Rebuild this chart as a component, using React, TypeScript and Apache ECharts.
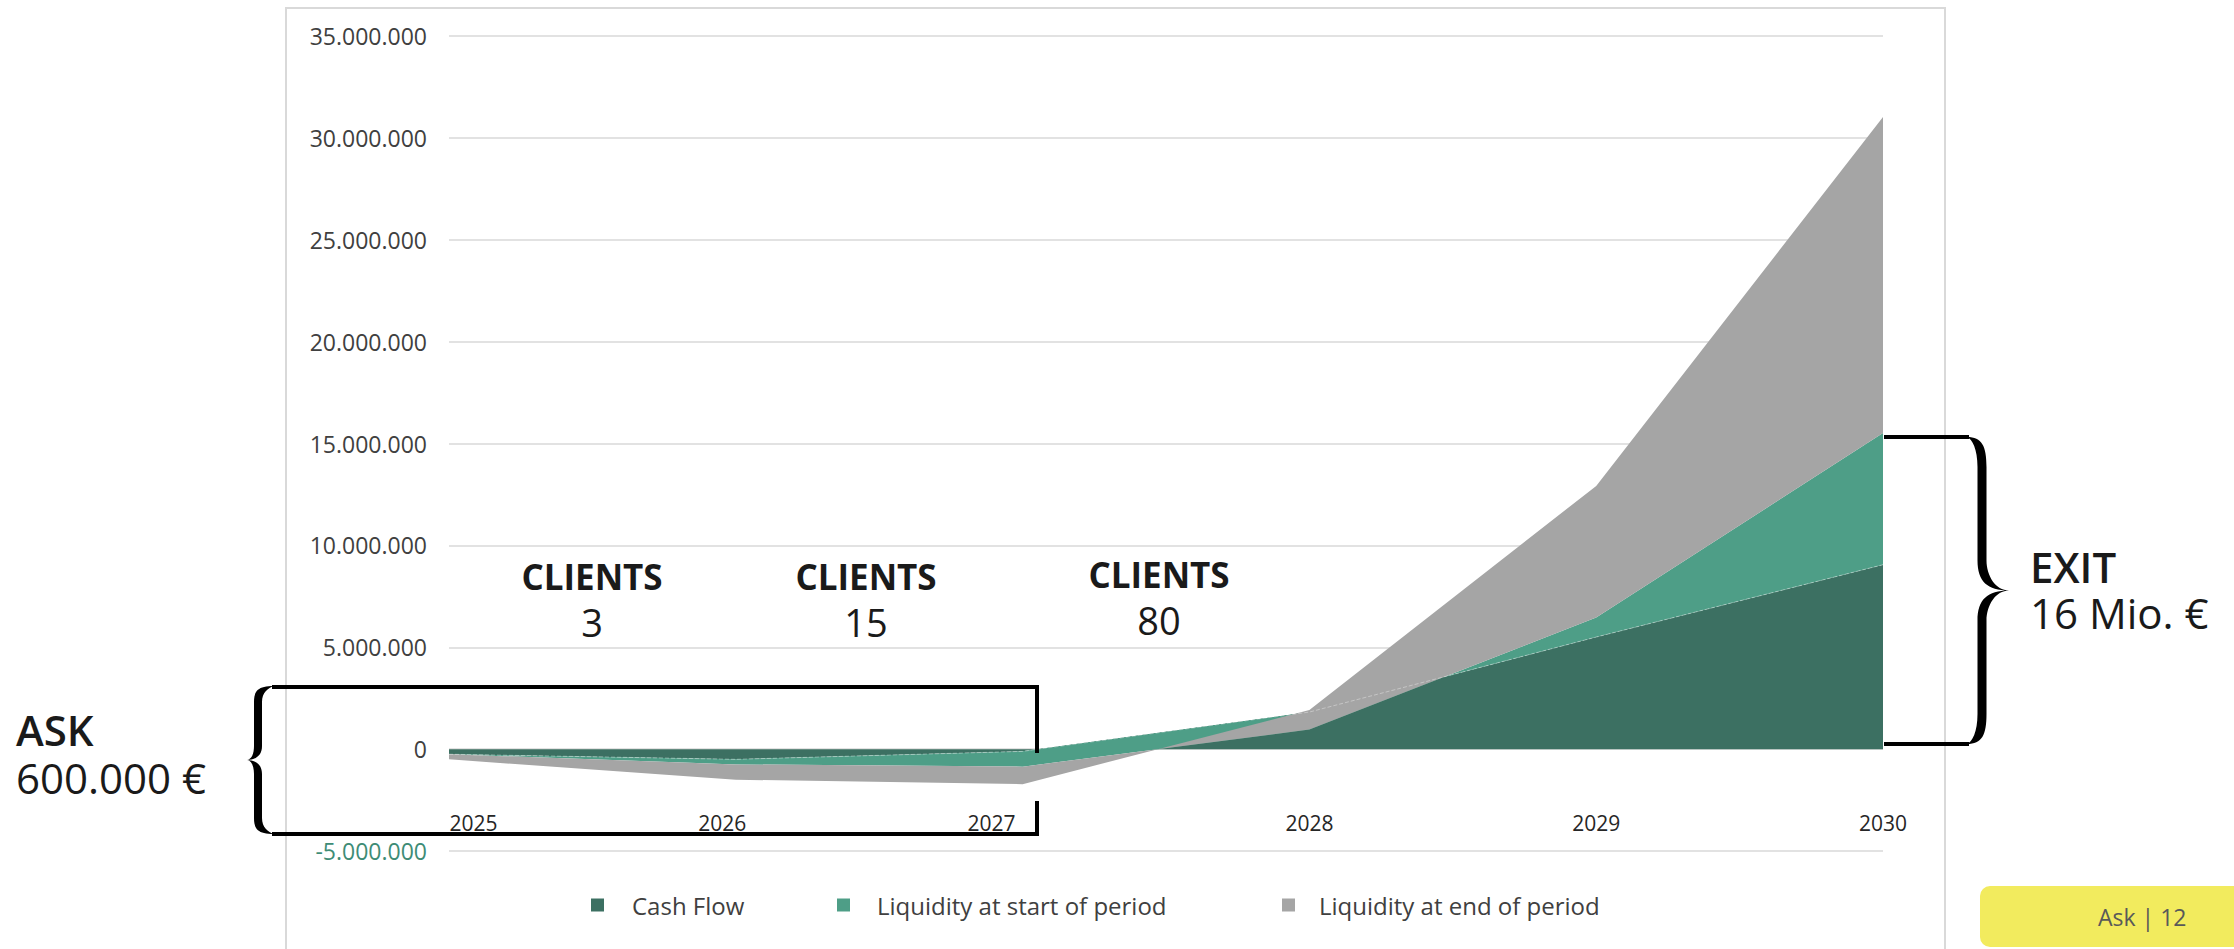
import React, { useEffect, useRef } from "react";
import * as echarts from "echarts";

// ---- data ----
const years = ["2025", "2026", "2027", "2028", "2029", "2030"];
const cashFlow = [-250000, -500000, -110000, 1820000, 5500000, 9050000];
const liquidityStart = [0, -250000, -750000, -860000, 960000, 6460000];
const liquidityEnd = [-250000, -750000, -860000, 960000, 6460000, 15510000];
const yMin = -5000000;
const yMax = 35000000;
const yInterval = 5000000;
const seriesNames = ["Cash Flow", "Liquidity at start of period", "Liquidity at end of period"];
const clientCounts = ["3", "15", "80"];

const DARK = "#3c7062";
const MID = "#4e9e87";
const GRAY = "#a5a5a5";
const FONT = "Open Sans";

function fmtNum(v: number): string {
  const n = Math.round(Math.abs(v)).toString().replace(/\B(?=(\d{3})+(?!\d))/g, ".");
  return (v < 0 ? "-" : "") + n;
}

function braceD(xe: number, xb: number, xt: number, yt: number, yb: number, h: number, r: number, q: number): string {
  const s = xt > xb ? 1 : -1;
  const xo = xb + s * h;
  const xi = xb - s * h;
  const ym = (yt + yb) / 2;
  const xm = (xe + xi) / 2;
  const d = Math.abs(xt - xb);
  const tc1 = xt - s * 0.5 * d;
  const tc2 = xt - s * 0.8 * d;
  return [
    `M${xe},${yt}`,
    `C${xb},${yt} ${xo},${yt + 0.3 * r} ${xo},${yt + r}`,
    `L${xo},${ym - q}`,
    `C${xo},${ym - 0.5 * q} ${tc1},${ym} ${xt},${ym}`,
    `C${tc1},${ym} ${xo},${ym + 0.5 * q} ${xo},${ym + q}`,
    `L${xo},${yb - r}`,
    `C${xo},${yb - 0.3 * r} ${xb},${yb} ${xe},${yb}`,
    `C${xm},${yb - 0.5 * h} ${xi},${yb - 0.4 * r} ${xi},${yb - r}`,
    `L${xi},${ym + q}`,
    `C${xi},${ym + 0.3 * q} ${tc2},${ym} ${xt},${ym}`,
    `C${tc2},${ym} ${xi},${ym - 0.3 * q} ${xi},${ym - q}`,
    `L${xi},${yt + r}`,
    `C${xi},${yt + 0.4 * r} ${xm},${yt + 0.5 * h} ${xe},${yt}`,
    "Z",
  ].join(" ");
}

echarts.graphic.registerShape(
  "braceAsk",
  echarts.graphic.extendPath(braceD(274, 258, 246, 686, 834, 4, 16, 14), {})
);
echarts.graphic.registerShape(
  "braceExit",
  echarts.graphic.extendPath(braceD(1967, 1982, 2009, 437, 744, 4.5, 30, 30), {})
);

function txt(x: number, y: number, text: string, size: number, weight: any, align: string, color = "#1a1a1a") {
  return {
    type: "text",
    x,
    y,
    silent: true,
    z: 10,
    style: {
      text,
      fill: color,
      fontFamily: FONT,
      fontSize: size,
      fontWeight: weight,
      lineHeight: size,
      textAlign: align,
      textVerticalAlign: "middle",
      verticalAlign: "middle",
    },
  };
}

// two-line label (title + value) as one rich text block
function twoLine(x: number, yMid: number, title: string, value: string, sizeT: number, sizeV: number, gap: number, tWeight: any, vWeight: any, align = "left") {
  return {
    type: "text",
    x,
    y: yMid,
    silent: true,
    z: 10,
    style: {
      text: `{t|${title}}\n{v|${value}}`,
      fill: "#1a1a1a",
      fontFamily: FONT,
      textAlign: align,
      textVerticalAlign: "middle",
      verticalAlign: "middle",
      rich: {
        t: { fontFamily: FONT, fontSize: sizeT, fontWeight: tWeight, lineHeight: gap, fill: "#1a1a1a", align },
        v: { fontFamily: FONT, fontSize: sizeV, fontWeight: vWeight, lineHeight: gap, fill: "#1a1a1a", align },
      },
    },
  };
}

function ln(x1: number, y1: number, x2: number, y2: number, w = 4) {
  return {
    type: "line",
    silent: true,
    z: 10,
    shape: { x1, y1, x2, y2 },
    style: { stroke: "#000", lineWidth: w, lineCap: "square" },
  };
}

export default function App() {
  const ref = useRef<HTMLDivElement>(null);

  useEffect(() => {
    if (!ref.current) return;
    const chart = echarts.init(ref.current, undefined, { renderer: "svg" });

    const base = { fontFamily: FONT, fontSize: 21, color: "#262626", lineHeight: 22 };
    const labelKeys = ["l", "m", "n", "c", "c", "c"];

    const legendLefts = [586, 832, 1277];
    const legendPads = [23, 22, 19];
    const colors = [DARK, MID, GRAY];

    // grid: 36 top, 98 bottom -> plot height 815; the x labels hang off the zero line
    const plotH = 949 - 36 - 98;
    const zeroFromBottom = (plotH * (0 - yMin)) / (yMax - yMin);

    const option: any = {
      animation: false,
      backgroundColor: "#ffffff",
      grid: { left: 449, right: 351, top: 36, bottom: 98 },
      legend: seriesNames.map((name, i) => ({
        data: [{ name, itemStyle: { color: colors[i] } }],
        left: legendLefts[i],
        top: 887,
        icon: "rect",
        itemWidth: 13,
        itemHeight: 13,
        selectedMode: false,
        textStyle: {
          fontFamily: FONT,
          fontSize: 24,
          lineHeight: 26,
          color: "#404040",
          padding: [0, 0, 0, legendPads[i]],
        },
      })),
      xAxis: {
        type: "category",
        data: years,
        boundaryGap: false,
        position: "bottom",
        offset: -zeroFromBottom,
        axisLine: { show: false, onZero: false },
        axisTick: { show: false },
        splitLine: { show: false },
        axisLabel: {
          interval: 0,
          margin: 63,
          formatter: (v: string, i: number) => `{${labelKeys[i]}|${v}}`,
          rich: {
            l: { ...base, padding: [0, 0, 0, 49] },
            m: { ...base, padding: [0, 27, 0, 0] },
            n: { ...base, padding: [0, 62, 0, 0] },
            c: { ...base },
          },
        },
      },
      yAxis: {
        type: "value",
        min: yMin,
        max: yMax,
        interval: yInterval,
        axisLine: { show: false },
        axisTick: { show: false },
        splitLine: { show: true, lineStyle: { color: "#d9d9d9", width: 1.5 } },
        axisLabel: {
          margin: 22,
          fontFamily: FONT,
          fontSize: 23,
          color: (val: any) => (Number(val) < 0 ? "#3e8c76" : "#404040"),
          formatter: (v: number) => fmtNum(v),
        },
      },
      series: [
        {
          name: seriesNames[0],
          type: "line",
          stack: "total",
          stackStrategy: "all",
          data: cashFlow,
          symbol: "none",
          silent: true,
          itemStyle: { color: DARK },
          lineStyle: { width: 1, color: "rgba(255,255,255,0.35)", type: "dashed" },
          areaStyle: { color: DARK, opacity: 1 },
        },
        {
          name: seriesNames[1],
          type: "line",
          stack: "total",
          stackStrategy: "all",
          data: liquidityStart,
          symbol: "none",
          silent: true,
          itemStyle: { color: MID },
          lineStyle: { width: 0, opacity: 0 },
          areaStyle: { color: MID, opacity: 1 },
        },
        {
          name: seriesNames[2],
          type: "line",
          stack: "total",
          stackStrategy: "all",
          data: liquidityEnd,
          symbol: "none",
          silent: true,
          itemStyle: { color: GRAY },
          lineStyle: { width: 0, opacity: 0 },
          areaStyle: { color: GRAY, opacity: 1 },
        },
      ],
      graphic: [
        // chart frame
        {
          type: "rect",
          silent: true,
          z: -1,
          shape: { x: 286, y: 8, width: 1659, height: 980 },
          style: { fill: "none", stroke: "#d9d9d9", lineWidth: 2 },
        },
        // page tag
        {
          type: "rect",
          silent: true,
          shape: { x: 1980, y: 886, width: 280, height: 61, r: 10 },
          style: { fill: "#f2eb5e" },
        },
        txt(2098, 917, "Ask | 12", 23, "normal", "left", "#595959"),
        // ASK box
        ln(274, 687, 1037, 687),
        ln(274, 834, 1037, 834),
        ln(1037, 687, 1037, 751),
        ln(1037, 803, 1037, 834),
        { type: "braceAsk", silent: true, z: 10, style: { fill: "#000" } },
        twoLine(16, 753, "ASK", "600.000 €", 42, 42, 48, 600, "normal"),
        // EXIT bracket
        ln(1886, 437, 1967, 437),
        ln(1886, 744, 1967, 744),
        { type: "braceExit", silent: true, z: 10, style: { fill: "#000" } },
        twoLine(2030, 589, "EXIT", "16 Mio. €", 42, 42, 46, 600, "normal"),
        // client annotations
        twoLine(592, 599, "CLIENTS", clientCounts[0], 35, 38, 45, "bold", "normal", "center"),
        twoLine(866, 599, "CLIENTS", clientCounts[1], 35, 38, 45, "bold", "normal", "center"),
        twoLine(1159, 597, "CLIENTS", clientCounts[2], 35, 38, 45, "bold", "normal", "center"),
      ],
    };

    chart.setOption(option);
    return () => chart.dispose();
  }, []);

  return (
    <div
      ref={ref}
      style={{ position: "fixed", left: 0, top: 0, width: 2234, height: 949, background: "#fff" }}
    />
  );
}
